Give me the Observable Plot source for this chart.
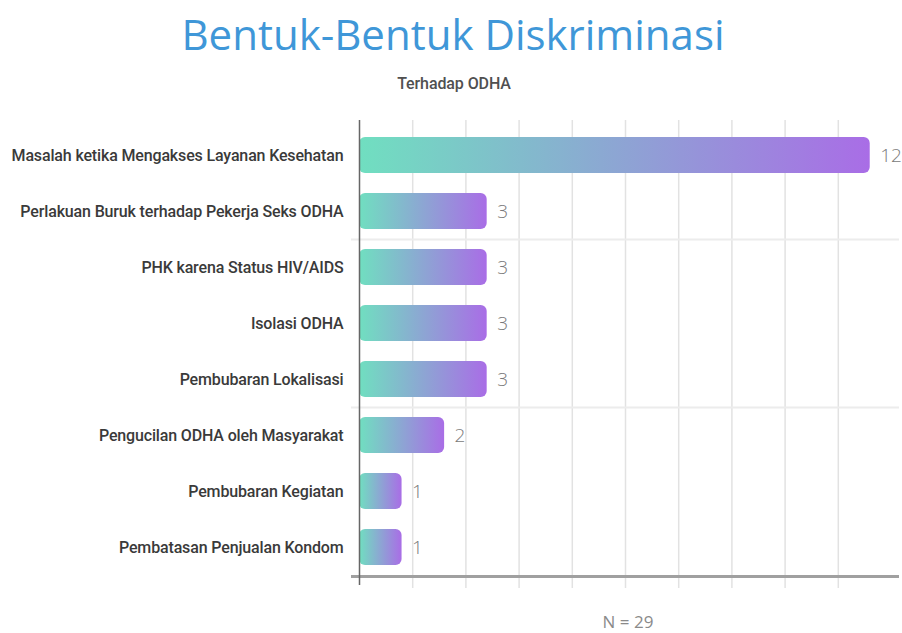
<!DOCTYPE html>
<html>
<head>
<meta charset="utf-8">
<script src="https://cdn.jsdelivr.net/npm/d3@7"></script>
<script src="https://cdn.jsdelivr.net/npm/@observablehq/plot@0.6"></script>
<style>
  html, body { margin: 0; padding: 0; background: #ffffff; }
  body { width: 902px; height: 633px; position: relative; overflow: hidden; }
  #title { position: absolute; left: 0; top: 0; width: 906px; text-align: center;
    font-family: "Open Sans", sans-serif; font-size: 42px; line-height: 68px; color: #3f97d8; }
  #subtitle { position: absolute; left: 0; top: 74px; width: 908px; text-align: center;
    font-family: Roboto, sans-serif; font-weight: 500; font-size: 16px; line-height: 20px; letter-spacing: -0.1px; color: #505050; }
  #chart { position: absolute; left: 0; top: 100px; }
  #caption { position: absolute; left: 528px; width: 200px; top: 611px; text-align: center;
    font-family: "Open Sans", sans-serif; font-size: 17px; line-height: 22px; color: #8a8a8a; }
  #chart svg g[aria-label="y-axis tick label"] text { letter-spacing: -0.15px; }
</style>
</head>
<body>
<div id="title">Bentuk-Bentuk Diskriminasi</div>
<div id="subtitle">Terhadap ODHA</div>
<div id="chart"></div>
<div id="caption">N = 29</div>
<script>
const categories = [
  "Masalah ketika Mengakses Layanan Kesehatan",
  "Perlakuan Buruk terhadap Pekerja Seks ODHA",
  "PHK karena Status HIV/AIDS",
  "Isolasi ODHA",
  "Pembubaran Lokalisasi",
  "Pengucilan ODHA oleh Masyarakat",
  "Pembubaran Kegiatan",
  "Pembatasan Penjualan Kondom"
];
const values = [12, 3, 3, 3, 3, 2, 1, 1];
const gridValues = [1.25, 2.5, 3.75, 5, 6.25, 7.5, 8.75, 10, 11.25];
const lightRowLines = ["Perlakuan Buruk terhadap Pekerja Seks ODHA", "Pembubaran Lokalisasi"];
const baseRowLine = ["Pembatasan Penjualan Kondom"];

const rows = categories.map((c, i) => ({category: c, value: values[i]}));

const ns = "http://www.w3.org/2000/svg";
function gradientDefs() {
  const defs = document.createElementNS(ns, "defs");
  const g = document.createElementNS(ns, "linearGradient");
  g.setAttribute("id", "barGrad");
  g.setAttribute("x1", "0"); g.setAttribute("x2", "1");
  g.setAttribute("y1", "0"); g.setAttribute("y2", "0");
  [["0%", "#70dfc0"], ["100%", "#a96de6"]].forEach(([o, c]) => {
    const s = document.createElementNS(ns, "stop");
    s.setAttribute("offset", o); s.setAttribute("stop-color", c);
    g.appendChild(s);
  });
  defs.appendChild(g);
  return defs;
}

const chart = Plot.plot({
  width: 902,
  height: 498,
  marginLeft: 351,
  marginRight: 3,
  marginTop: 20,
  marginBottom: 10,
  style: {fontFamily: 'Roboto, sans-serif', fontSize: "16px", fontWeight: 500, color: "#3a3a3a", background: "transparent"},
  x: {domain: [0, 12.5], insetLeft: 8, insetRight: 8, axis: null},
  y: {domain: categories, paddingInner: 0.36, paddingOuter: 0.18, insetTop: 7, insetBottom: 13,
      tickSize: 0, tickPadding: 8, label: null},
  marks: [
    gradientDefs,
    Plot.ruleX(gridValues, {stroke: "#e2e2e2", strokeWidth: 1.5}),
    Plot.ruleY(lightRowLines, {y: d => d, dy: 28, stroke: "#ececec", strokeWidth: 2}),
    Plot.barX(rows, {x: "value", y: "category", fill: "url(#barGrad)", rx: 6}),
    Plot.ruleY(baseRowLine, {y: d => d, dy: 29, stroke: "#a0a0a0", strokeWidth: 3}),
    Plot.ruleX([0], {stroke: "#666", strokeWidth: 1.5, insetBottom: 3}),
    Plot.text(rows, {x: "value", y: "category", text: d => String(d.value), textAnchor: "start", dx: 10,
      fill: "#7a7a7a", fontSize: 19, fontFamily: '"Open Sans", sans-serif', fontWeight: 300})
  ]
});
document.getElementById("chart").appendChild(chart);
</script>
</body>
</html>
